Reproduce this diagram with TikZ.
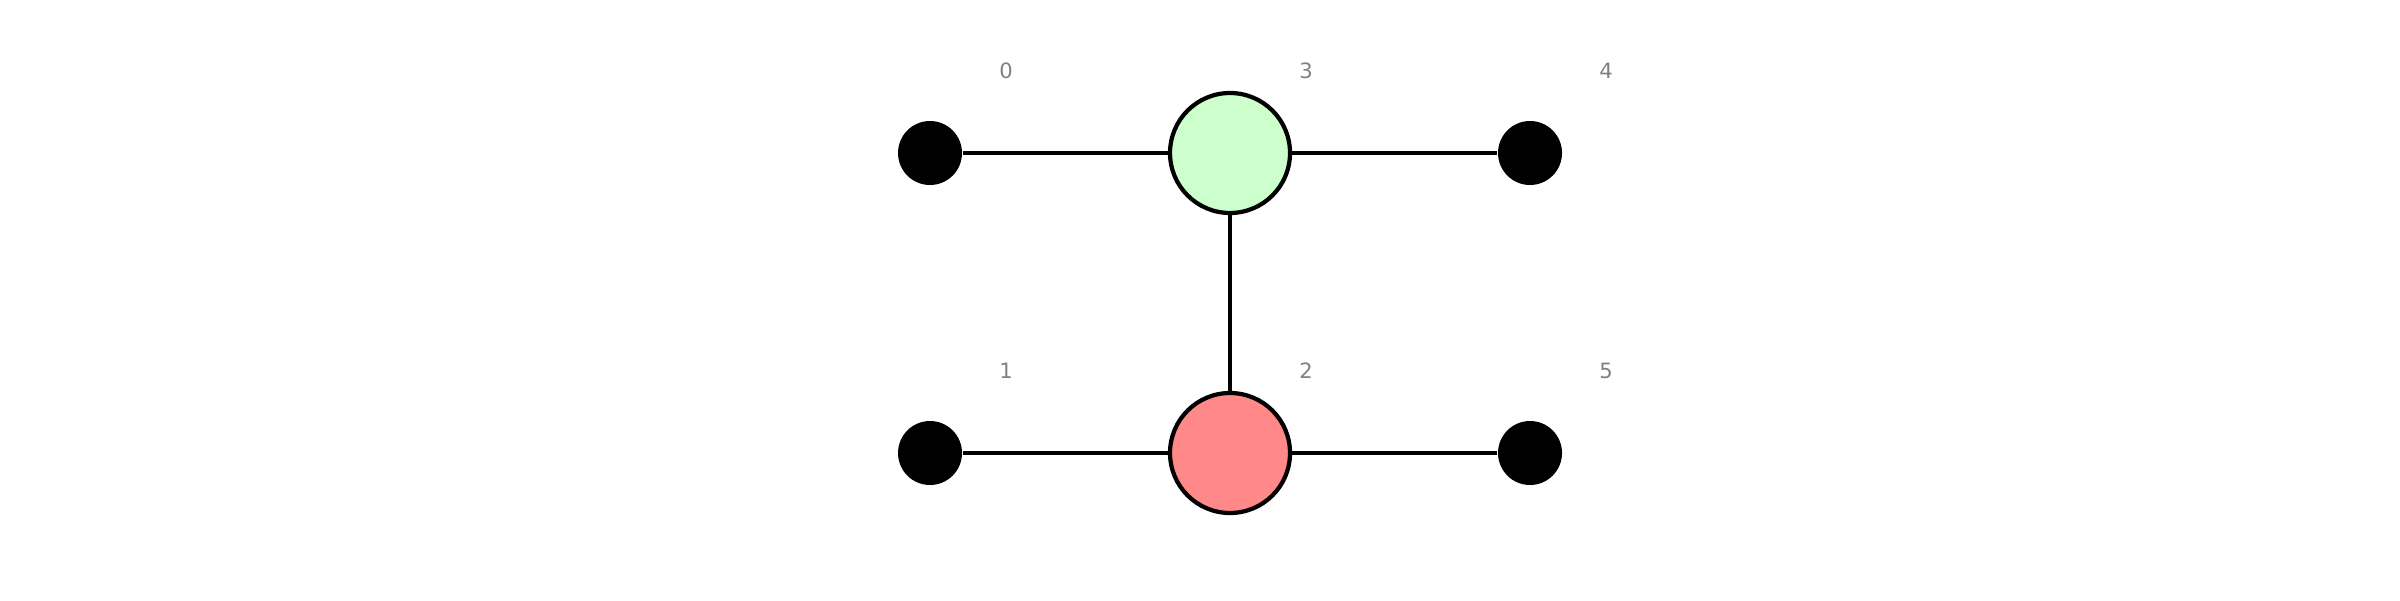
\documentclass[tikz,border=0pt]{standalone}
\usepackage{fontspec}
\setmainfont{DejaVu Sans}
\definecolor{leafgreen}{HTML}{CCFFCC}
\definecolor{rootred}{HTML}{FF8888}
\begin{document}
\begin{tikzpicture}[
    tip/.style = {circle, fill=black, inner sep=0pt, minimum size=0.64cm},
    hub/.style = {circle, draw=black, line width=1.2pt, inner sep=0pt, minimum size=1.2cm},
    idx/.style = {text=black!50, font=\fontsize{6}{7}\selectfont}
]

                    \useasboundingbox (0,0) rectangle (24,6);

                    \node[tip] (n0) at (9.30,4.47) {};
                    \node[tip] (n1) at (9.30,1.47) {};
                    \node[hub, fill=rootred] (n2) at (12.30,1.47) {};
                    \node[hub, fill=leafgreen] (n3) at (12.30,4.47) {};
                    \node[tip] (n4) at (15.30,4.47) {};
                    \node[tip] (n5) at (15.30,1.47) {};

                    % edges
                    \foreach \a/\b in {n0/n3, n3/n4, n1/n2, n2/n5, n3/n2}
                    \draw[line width=1pt] (\a) -- (\b);

                    % index labels
                    \foreach \n/\ntext in {n0/0, n1/1, n2/2, n3/3, n4/4, n5/5}
                    \node[idx] (l\ntext) at ([shift={(0.76,0.82)}]\n.center) {\ntext};
                \end{tikzpicture}
\end{document}
